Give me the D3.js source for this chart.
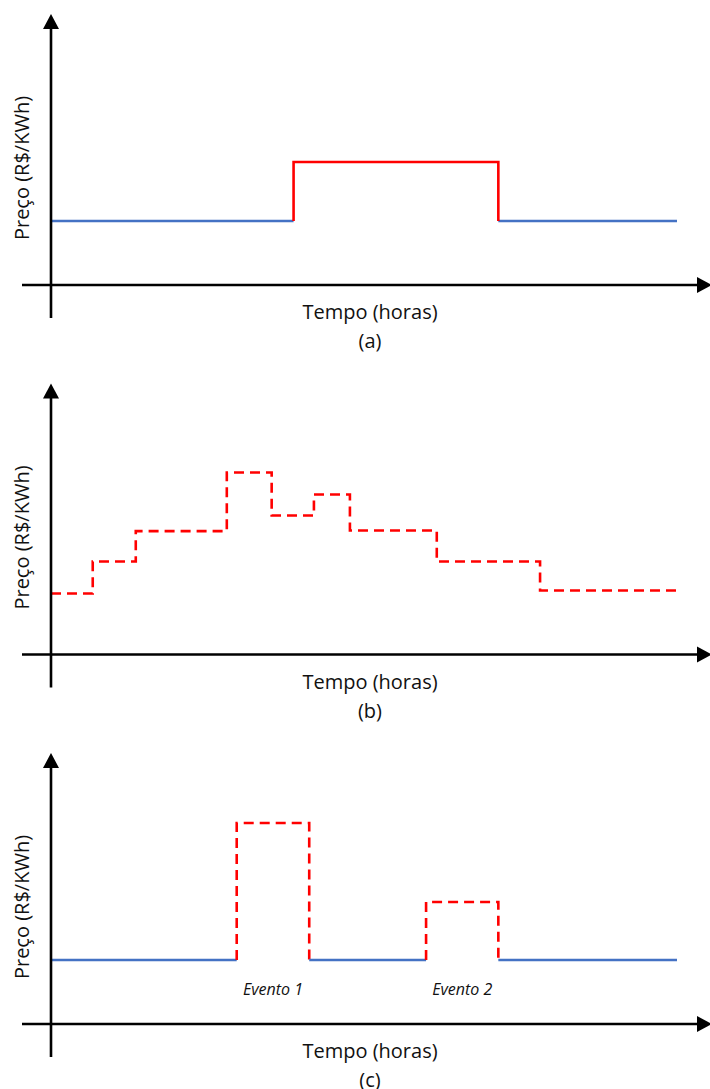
<!DOCTYPE html>
<html>
<head>
<meta charset="utf-8">
<script src="https://cdn.jsdelivr.net/npm/d3@7"></script>
<style>
  body { margin: 0; background: #fff; }
  text { font-family: "Open Sans", sans-serif; fill: #111; }
</style>
</head>
<body>
<svg width="710" height="1089"></svg>
<script>
var svg = d3.select('svg');

// shared values (time in hours, price in R$/kWh)
const basePrice = 0.32;
const panelLabels = ['(a)', '(b)', '(c)'];
const xTitle = 'Tempo (horas)';
const yTitle = 'Preço (R$/KWh)';

// (a) one peak period
const peakA = { start: 9.3, end: 17.15, price: 0.615 };

// (b) dynamic price, step series
const timesB = [0, 1.6, 3.25, 6.74, 8.46, 10.08, 11.46, 14.79, 18.75, 24];
const pricesB = [0.305, 0.465, 0.617, 0.91, 0.695, 0.80, 0.62, 0.465, 0.32];

// (c) critical peak events
const eventNames = ['Evento 1', 'Evento 2'];
const eventStart = [7.12, 14.38];
const eventEnd = [9.9, 17.15];
const eventPrice = [1.005, 0.61];

var blue = '#4472C4', red = '#FF0000';
var panelAxisY = [285, 654.5, 1024]; // where each x-axis sits

var x = d3.scaleLinear().domain([0, 24]).range([51, 677]);

function drawAxes(g, y0) {
  // y axis with arrow
  g.append('line')
    .attr('x1', 51).attr('x2', 51)
    .attr('y1', y0 + 33).attr('y2', y0 - 258)
    .attr('stroke', '#000').attr('stroke-width', 2.6);
  g.append('path')
    .attr('d', 'M51,' + (y0 - 271) + 'L43,' + (y0 - 256) + 'L59,' + (y0 - 256) + 'Z')
    .attr('fill', '#000');
  // x axis with arrow
  g.append('line')
    .attr('x1', 22).attr('x2', 700)
    .attr('y1', y0).attr('y2', y0)
    .attr('stroke', '#000').attr('stroke-width', 2.6);
  g.append('path')
    .attr('d', 'M712,' + y0 + 'L697,' + (y0 - 8) + 'L697,' + (y0 + 8) + 'Z')
    .attr('fill', '#000');
}

function drawTitles(g, y0, label) {
  g.append('text')
    .attr('x', 370).attr('y', y0 + 34)
    .attr('text-anchor', 'middle')
    .style('font-size', '20px')
    .text(xTitle);
  g.append('text')
    .attr('x', 370).attr('y', y0 + 63)
    .attr('text-anchor', 'middle')
    .style('font-size', '20px')
    .text(label);
  g.append('text')
    .attr('transform', 'translate(29,' + (y0 - 117) + ')rotate(-90)')
    .attr('text-anchor', 'middle')
    .style('font-size', '20px')
    .text(yTitle);
}

function flat(g, y, t0, t1) {
  g.append('line')
    .attr('x1', x(t0)).attr('x2', x(t1))
    .attr('y1', y(basePrice)).attr('y2', y(basePrice))
    .attr('stroke', blue).attr('stroke-width', 2.6);
}

// draws a raised block from the base price up to price between t0 and t1
function block(g, y, t0, t1, price, dashed) {
  var pts = [[t0, basePrice], [t0, price], [t1, price], [t1, basePrice]];
  g.append('path')
    .attr('d', d3.line().x(d => x(d[0])).y(d => y(d[1]))(pts))
    .attr('fill', 'none')
    .attr('stroke', red).attr('stroke-width', 2.6)
    .attr('stroke-dasharray', dashed ? '10,6' : null);
}

panelAxisY.forEach(function (y0, i) {
  var g = svg.append('g');
  var y = d3.scaleLinear().domain([0, 1]).range([y0, y0 - 200]);

  if (i == 0) {
    flat(g, y, 0, peakA.start);
    flat(g, y, peakA.end, 24);
    block(g, y, peakA.start, peakA.end, peakA.price, false);
  } else if (i == 1) {
    var stepData = timesB.map((t, k) => ({ t: t, p: pricesB[Math.min(k, pricesB.length - 1)] }));
    g.append('path')
      .attr('d', d3.line().curve(d3.curveStepAfter).x(d => x(d.t)).y(d => y(d.p))(stepData))
      .attr('fill', 'none')
      .attr('stroke', red).attr('stroke-width', 2.6)
      .attr('stroke-dasharray', '10,6');
  } else {
    var prev = 0;
    eventNames.forEach(function (name, k) {
      flat(g, y, prev, eventStart[k]);
      block(g, y, eventStart[k], eventEnd[k], eventPrice[k], true);
      g.append('text')
        .attr('x', x((eventStart[k] + eventEnd[k]) / 2))
        .attr('y', y0 - 29)
        .attr('text-anchor', 'middle')
        .style('font-size', '16px')
        .style('font-style', 'italic')
        .text(name);
      prev = eventEnd[k];
    });
    flat(g, y, prev, 24);
  }

  drawAxes(g, y0);
  drawTitles(g, y0, panelLabels[i]);
});
</script>
</body>
</html>
